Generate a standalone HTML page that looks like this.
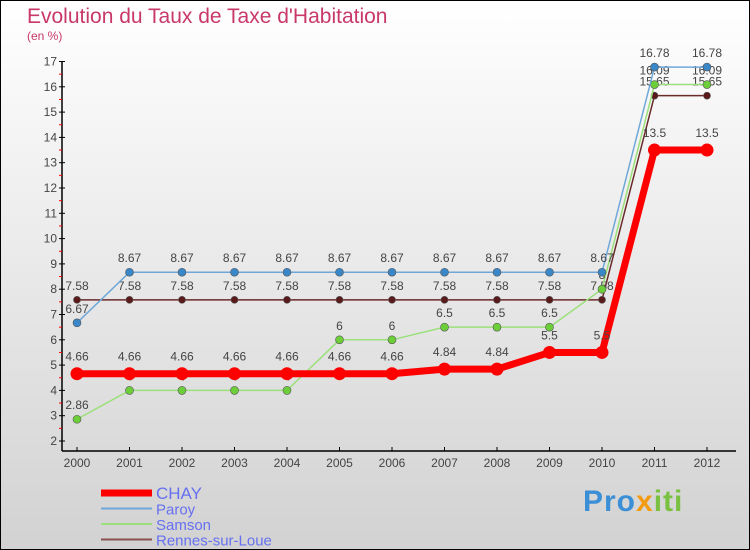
<!DOCTYPE html>
<html><head><meta charset="utf-8"><style>
body{margin:0}
#c{width:750px;height:550px;position:relative;box-sizing:border-box;border:1px solid #000;background:linear-gradient(#fff,#d2d2d2);font-family:"Liberation Sans",sans-serif;overflow:hidden}
.t{position:absolute;left:26px;top:4px;font-size:21px;color:#c8386a}
.s{position:absolute;left:26px;top:28px;font-size:12px;color:#c8386a}
svg{position:absolute;left:0;top:0}
</style></head><body>
<div id="c">
<div class="t">Evolution du Taux de Taxe d'Habitation</div>
<div class="s">(en %)</div>
<svg id="g" width="750" height="550"></svg>
<div style="position:absolute;left:582px;top:484px;font-size:30px;font-weight:bold;letter-spacing:1px"><span style="color:#3a8fd6">Pro</span><span style="color:#f39c12">x</span><span style="color:#7ac142">iti</span></div>
</div>
<script>
const years=[2000,2001,2002,2003,2004,2005,2006,2007,2008,2009,2010,2011,2012];
const chay=[4.66,4.66,4.66,4.66,4.66,4.66,4.66,4.84,4.84,5.5,5.5,13.5,13.5];
const paroy=[6.67,8.67,8.67,8.67,8.67,8.67,8.67,8.67,8.67,8.67,8.67,16.78,16.78];
const samson=[2.86,4,4,4,4,6,6,6.5,6.5,6.5,8,16.09,16.09];
const rennes=[7.58,7.58,7.58,7.58,7.58,7.58,7.58,7.58,7.58,7.58,7.58,15.65,15.65];
const yTicks=[2,3,4,5,6,7,8,9,10,11,12,13,14,15,16,17];
const names=["CHAY","Paroy","Samson","Rennes-sur-Loue"];
const NS="http://www.w3.org/2000/svg",g=document.getElementById('g');
const X=i=>76+i*52.5, Y=v=>440-(v-2)*25.3;
function el(t,a,p){const e=document.createElementNS(NS,t);for(const k in a)e.setAttribute(k,a[k]);(p||g).appendChild(e);return e;}
function tx(x,y,s,a,size,fill){const e=el('text',{x:x,y:y,'text-anchor':a||'middle','font-size':size||12,fill:fill||'#444','font-family':'Liberation Sans,sans-serif'});e.textContent=s;return e;}
let ax=el('line',{x1:61,y1:Y(17),x2:61,y2:450,stroke:'#000','stroke-width':1.5});

let bx=el('line',{x1:61,y1:450,x2:735,y2:450,stroke:'#000','stroke-width':1.5});

yTicks.forEach(v=>{el('line',{x1:58,y1:Y(v),x2:64,y2:Y(v),stroke:'#000'});
 if(v<17)el('line',{x1:58,y1:Y(v+0.5),x2:61,y2:Y(v+0.5),stroke:'#f00'});
 const t=tx(56,Y(v)+4,v,'end',12,'#444');});
years.forEach((yr,i)=>{el('line',{x1:X(i),y1:446,x2:X(i),y2:450,stroke:'#000'});
 const t=tx(X(i),466,yr,'middle',12,'#444');});
const series=[[rennes,'#6b2a2a','#5a1a1a',1.5,3.5],[samson,'#9be07a','#6ccf3a',1.5,4],[paroy,'#6fa8d8','#3a87c8',1.5,4],[chay,'#f00','#f00',7,6.5]];
series.forEach(([d,lc,pc,w,r])=>{
 const p=el('polyline',{points:d.map((v,i)=>X(i)+','+Y(v)).join(' '),fill:'none',stroke:lc,'stroke-width':w});
 
 d.forEach((v,i)=>{const c=el('circle',{cx:X(i),cy:Y(v),r:r,fill:pc,stroke:'#555','stroke-width':w>3?0:0.6});
  
  const t=tx(X(i),Y(v)-(w>3?13:10),String(v),'middle',12,'#444');});
});
const leg=[['#f00',7],['#6fa8d8',2],['#9be07a',2],['#8a5050',2]];
leg.forEach((l,k)=>{const y=492+k*15.5;
 el('line',{x1:100,y1:y,x2:151,y2:y,stroke:l[0],'stroke-width':l[1]});
 const t=tx(155,y+6,names[k],'start',k==0?17:15,'#6670f0');});
</script>
</body></html>
